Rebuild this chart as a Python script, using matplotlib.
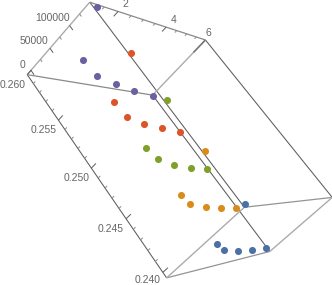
import numpy as np
import matplotlib
matplotlib.use("Agg")
import matplotlib.pyplot as plt

plt.rcParams['font.family'] = ['Liberation Sans', 'DejaVu Sans']

## data
x = [1, 2, 3, 4, 5, 6]
y_purple = [0.2592, 0.2594, 0.2596, 0.2598, 0.2599, 0.2599]
z_purple = [154706, 49278, 18169, 5299, -5802, -10391]
y_red = [0.2543, 0.2545, 0.2547, 0.2548, 0.2549, 0.2549]
z_red = [153728, 50103, 18539, 3165, -4819, -10363]
y_green = [0.2494, 0.2496, 0.2498, 0.2498, 0.2498, 0.2499]
z_green = [154327, 48232, 19299, 3105, -5869, -11603]
y_orange = [0.2445, 0.2447, 0.2448, 0.2448, 0.2449, 0.2449]
z_orange = [153675, 49558, 18311, 4980, -5281, -11962]
y_blue = [0.2396, 0.2398, 0.2400, 0.2399, 0.2400, 0.2400]
z_blue = [153625, 50220, 19177, 4586, -5469, -11900]

x_ticks = [2, 4, 6]
y_ticks = [0.260, 0.255, 0.250, 0.245, 0.240]
z_ticks = [0, 50000, 100000]

xr = (1.0, 6.0)
yr = (0.26, 0.2395)
zr = (-10000.0, 150000.0)

## camera: fit a projective matrix to where the box corners land
corners = {
    (0,0,0): (27,74), (0,0,1): (90,3), (1,0,1): (205,39), (1,0,0): (153,96),
    (0,1,0): (166,278), (1,1,0): (270,251), (0,1,1): (245,207), (1,1,1): (332,198),
}
rows = []
for (a,b,c),(u,v) in corners.items():
    rows.append([a,b,c,1,0,0,0,0,-u*a,-u*b,-u*c,-u])
    rows.append([0,0,0,0,a,b,c,1,-v*a,-v*b,-v*c,-v])
P = np.linalg.svd(np.array(rows,float))[2][-1].reshape(3,4)

def proj(px, py, pz):
    a = (np.asarray(px,float)-xr[0])/(xr[1]-xr[0])
    b = (np.asarray(py,float)-yr[0])/(yr[1]-yr[0])
    c = (np.asarray(pz,float)-zr[0])/(zr[1]-zr[0])
    h = P @ np.array([a, b, c, np.ones_like(a)])
    return h[0]/h[2], h[1]/h[2]

def seg(p0, p1, color, lw=0.75, zo=1):
    u, v = proj([p0[0],p1[0]], [p0[1],p1[1]], [p0[2],p1[2]])
    ax.plot(u, v, color=color, lw=lw, zorder=zo, solid_capstyle='butt')

fig = plt.figure(figsize=(3.32,2.85), dpi=100)
ax = fig.add_axes([0,0,1,1])
ax.set_xlim(0,332)
ax.set_ylim(285,0)
ax.axis('off')

dark = '#5c5c5c'
light = '#ababab'
mid = '#8a8a8a'
x0, x1 = xr
y0, y1 = yr
z0, z1 = zr

## box
seg((x0,y0,z0),(x0,y1,z0),dark)
seg((x0,y0,z1),(x0,y1,z1),dark)
seg((x1,y0,z0),(x1,y1,z0),dark)
seg((x1,y0,z1),(x1,y1,z1),dark)
seg((x0,y0,z1),(x1,y0,z1),mid,0.9)
seg((x0,y0,z0),(x1,y0,z0),mid,0.9)
seg((x0,y1,z0),(x1,y1,z0),'#949494',0.9)
seg((x0,y1,z1),(x1,y1,z1),'#949494',0.9)
seg((x0,y0,z0),(x0,y0,z1),light,1.0)
seg((x1,y0,z0),(x1,y0,z1),light,1.0)
seg((x0,y1,z0),(x0,y1,z1),light,1.0)
seg((x1,y1,z0),(x1,y1,z1),light,1.0)

## x ticks along the top edge
for t in np.arange(1.5, 6.01, 0.5):
    major = t in x_ticks
    seg((t,y0,z1),(t,y0,z1-(11000 if major else 5000)),dark if major else mid,0.7)
seg((x1,y0,z1),(x1,y0,z1-35000),'#777777',1.1,2)

## y ticks along the left edge, they point up the z direction
for t in np.arange(0.240, 0.2601, 0.001):
    major = abs(t*200-round(t*200)) < 1e-6
    seg((x0,t,z0),(x0,t,z0+(11000 if major else 5000)),dark if major else mid,0.7)

## z ticks along the left edge, they point down the y direction
for t in np.arange(0, 150001, 25000):
    major = t in z_ticks
    seg((x0,y0,t),(x0,y0-(0.0005 if major else 0.00028),t),dark if major else mid,0.7)

## points
series = [(y_purple,z_purple,'#6e5fa2'),(y_red,z_red,'#dd5429'),(y_green,z_green,'#7fa029'),
          (y_orange,z_orange,'#d98c1c'),(y_blue,z_blue,'#4c70a6')]
for ys, zs, c in series:
    u, v = proj(x, ys, zs)
    ax.scatter(u, v, s=26, color=c, linewidths=0, zorder=5)

## tick labels
tc = '#666666'
fs = 7.5
for t, off in zip(x_ticks, [(7,7),(7,7),(3,7)]):
    u, v = proj([t],[y0],[z1])
    ax.annotate(str(t), (u[0],v[0]), xytext=off, textcoords='offset pixels',
                ha='center', va='center', fontsize=fs, color=tc)
for t, off in zip(y_ticks, [(-15,-10),(-15,-10),(-15,-10),(-15,-10),(-15,-8)]):
    u, v = proj([x0],[t],[z0])
    ax.annotate('%.3f' % t, (u[0],v[0]), xytext=off, textcoords='offset pixels',
                ha='center', va='center', fontsize=fs, color=tc)
for t, off in zip(z_ticks, [(-6,5),(-2,7),(0,8)]):
    u, v = proj([x0],[y0],[t])
    ax.annotate(str(t), (u[0],v[0]), xytext=off, textcoords='offset pixels',
                ha='right', va='center', fontsize=fs, color=tc)

fig.savefig('out.png', dpi=100)
